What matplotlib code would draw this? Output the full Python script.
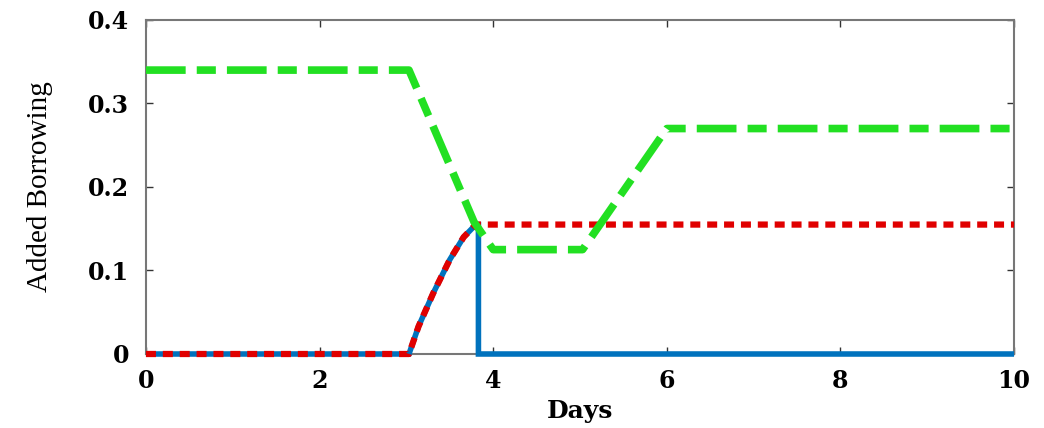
import numpy as np
import matplotlib.pyplot as plt

# values
days_blue = [0, 3.03, 3.14, 3.31, 3.50, 3.66, 3.80, 3.83, 3.83, 10]
blue_vals = [0, 0, 0.033, 0.073, 0.113, 0.140, 0.155, 0.155, 0, 0]

days_red = [0, 3.03, 3.14, 3.31, 3.50, 3.66, 3.80, 10]
red_vals = [0, 0, 0.033, 0.073, 0.113, 0.140, 0.155, 0.155]

days_green = [0, 3.03, 3.78, 4.0, 5.03, 6.0, 10]
green_vals = [0.34, 0.34, 0.158, 0.125, 0.125, 0.27, 0.27]

xticks = [0, 2, 4, 6, 8, 10]
yticks = [0, 0.1, 0.2, 0.3, 0.4]
ytick_labels = ["0", "0.1", "0.2", "0.3", "0.4"]

fig = plt.figure(figsize=(10.44, 4.28), dpi=100)
ax = fig.add_axes([0.1398, 0.1729, 0.8315, 0.7804])

ax.plot(days_blue, blue_vals, color="#0072BD", lw=4, solid_capstyle="butt",
        solid_joinstyle="miter", clip_on=False, zorder=3)
ax.plot(days_red, red_vals, color="#E00000", lw=4.5, dashes=(1.6, 1.1),
        dash_capstyle="butt", clip_on=False, zorder=4)
ax.plot(days_green, green_vals, color="#22E022", lw=5.5, dashes=(5.2, 1.45, 2.5, 1.45),
        dash_capstyle="butt", clip_on=False, zorder=5)

ax.set_xlim(0, 10)
ax.set_ylim(0, 0.4)
ax.set_xticks(xticks)
ax.set_yticks(yticks)
ax.set_yticklabels(ytick_labels)

for lab in ax.get_xticklabels() + ax.get_yticklabels():
    lab.set_fontfamily("DejaVu Serif")
    lab.set_fontweight("bold")
    lab.set_fontsize(17)

ax.tick_params(direction="in", length=5, width=1, color="#333333",
               top=True, right=True)
ax.tick_params(axis="y", pad=12)
ax.tick_params(axis="x", pad=11)
for sp in ax.spines.values():
    sp.set_color("#777777")
    sp.set_linewidth(1.5)

ax.set_xlabel("Days", fontfamily="DejaVu Serif", fontweight="bold", fontsize=18, labelpad=4)
ax.set_ylabel("Added Borrowing", fontfamily="Liberation Serif", fontsize=21)
ax.yaxis.set_label_coords(-0.107, 0.5)

fig.savefig("out.png", dpi=100)
